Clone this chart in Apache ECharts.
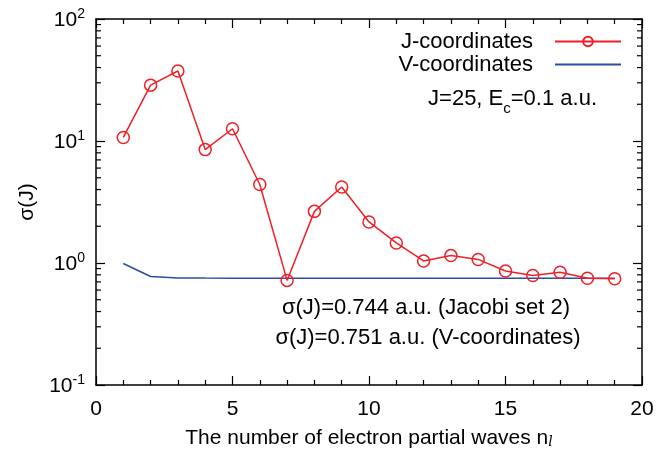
<!DOCTYPE html>
<html>
<head>
<meta charset="utf-8">
<script src="https://cdn.jsdelivr.net/npm/echarts@6/dist/echarts.min.js"></script>
<style>
  html, body { margin: 0; padding: 0; background: #fff; }
  #chart { width: 659px; height: 457px; }
</style>
</head>
<body>
<div id="chart"></div>
<script>
// 데이터
const nValues = [1, 2, 3, 4, 5, 6, 7, 8, 9, 10, 11, 12, 13, 14, 15, 16, 17, 18, 19];
const jCoordinates = [10.7, 28.7, 37.5, 8.5, 12.6, 4.4, 0.72, 2.65, 4.2, 2.17, 1.46, 1.04, 1.15, 1.07, 0.86, 0.79, 0.84, 0.75, 0.744];
const vCoordinates = [0.99, 0.775, 0.755, 0.752, 0.751, 0.751, 0.751, 0.751, 0.751, 0.751, 0.751, 0.751, 0.751, 0.751, 0.751, 0.751, 0.751, 0.751, 0.751];
const logMinorTicks = [0.2, 0.3, 0.4, 0.5, 0.6, 0.7, 0.8, 0.9, 2, 3, 4, 5, 6, 7, 8, 9, 20, 30, 40, 50, 60, 70, 80, 90];

const FONT = 'Liberation Sans';
const RED = '#ee2026';
const BLUE = '#2c4ca6';

const chart = echarts.init(document.getElementById('chart'));

const logLabel = v => {
  const p = Math.round(Math.log10(v));
  return '{b|10}{s|' + p + '}';
};

const xAxisBase = {
  type: 'value',
  min: 0,
  max: 20,
  interval: 5,
  axisLine: { show: true, onZero: false, lineStyle: { color: '#000', width: 1.5 } },
  axisTick: { show: true, inside: true, length: 9, lineStyle: { color: '#000', width: 1.2 } },
  minorTick: { show: true, splitNumber: 5, length: 5, lineStyle: { color: '#000', width: 1.2 } },
  splitLine: { show: false }
};

const yAxisBase = {
  type: 'log',
  logBase: 10,
  min: 0.1,
  max: 100,
  axisLine: { show: true, onZero: false, lineStyle: { color: '#000', width: 1.5 } },
  axisTick: { show: true, inside: true, length: 9, lineStyle: { color: '#000', width: 1.2 } },
  splitLine: { show: false }
};

chart.setOption({
  animation: false,
  textStyle: { fontFamily: FONT },
  grid: { left: 96, right: 17, top: 19, bottom: 72 },
  legend: {
    orient: 'vertical',
    align: 'right',
    right: 32,
    top: 25,
    itemWidth: 66,
    itemHeight: 12,
    itemGap: 0,
    data: [
      'J-coordinates',
      { name: 'V-coordinates', itemStyle: { opacity: 0 } }
    ],
    textStyle: { fontFamily: FONT, fontSize: 22, color: '#000', lineHeight: 23, padding: [0, 17, 0, 0] }
  },
  xAxis: [
    Object.assign({}, xAxisBase, {
      position: 'bottom',
      axisLabel: { show: true, fontSize: 21, color: '#000', margin: 14, fontFamily: FONT },
      name: '{t|The number of electron partial waves n}{l|l}',
      nameLocation: 'middle',
      nameGap: 42,
      nameTextStyle: {
        rich: {
          t: { fontSize: 21, fontFamily: FONT, color: '#000', lineHeight: 22 },
          l: { fontSize: 14, fontFamily: 'DejaVu Serif', fontStyle: 'italic', color: '#000', lineHeight: 12, verticalAlign: 'bottom' }
        }
      }
    }),
    Object.assign({}, xAxisBase, { position: 'top', axisLabel: { show: false } })
  ],
  yAxis: [
    Object.assign({}, yAxisBase, {
      position: 'left',
      axisLabel: {
        show: true,
        margin: 11,
        formatter: logLabel,
        rich: {
          b: { fontSize: 21, fontFamily: FONT, color: '#000', lineHeight: 24, verticalAlign: 'bottom' },
          s: { fontSize: 14, fontFamily: FONT, color: '#000', lineHeight: 14, verticalAlign: 'top' }
        }
      },
      name: 'σ(J)',
      nameLocation: 'middle',
      nameGap: 58,
      nameTextStyle: { fontSize: 21, fontFamily: FONT, color: '#000' }
    }),
    Object.assign({}, yAxisBase, { position: 'right', axisLabel: { show: false } })
  ],
  graphic: [
    {
      type: 'text',
      right: 62,
      top: 88,
      style: {
        text: '{t|J=25, E}{s|c}{t|=0.1 a.u.}',
        rich: {
          t: { fontSize: 22, fontFamily: FONT, fill: '#000', lineHeight: 24, verticalAlign: 'top' },
          s: { fontSize: 15, fontFamily: FONT, fill: '#000', lineHeight: 32, verticalAlign: 'top', padding: [13, 0, 0, 0] }
        }
      }
    },
    {
      type: 'text',
      x: 426,
      y: 308,
      style: {
        text: 'σ(J)=0.744 a.u. (Jacobi set 2)',
        fontSize: 22, fontFamily: FONT, fill: '#000',
        textAlign: 'center', textVerticalAlign: 'middle'
      }
    },
    {
      type: 'text',
      x: 428,
      y: 338,
      style: {
        text: 'σ(J)=0.751 a.u. (V-coordinates)',
        fontSize: 22, fontFamily: FONT, fill: '#000',
        textAlign: 'center', textVerticalAlign: 'middle'
      }
    }
  ],
  series: [
    {
      name: 'V-coordinates',
      type: 'line',
      data: nValues.map((n, i) => [n, vCoordinates[i]]),
      showSymbol: false,
      symbol: 'none',
      lineStyle: { color: BLUE, width: 1.5 },
      itemStyle: { color: BLUE },
      z: 2
    },
    {
      name: 'J-coordinates',
      type: 'line',
      data: nValues.map((n, i) => [n, jCoordinates[i]]),
      symbol: 'circle',
      symbolSize: 12,
      lineStyle: { color: RED, width: 1.5 },
      itemStyle: { color: 'rgba(0,0,0,0)', borderColor: RED, borderWidth: 1.5 },
      z: 3
    },
    {
      // 로그축 보조 눈금 (좌/우)
      type: 'custom',
      silent: true,
      data: logMinorTicks.map(v => [0, v]),
      renderItem: (params, api) => {
        const cs = params.coordSys;
        const y = api.coord([0, api.value(1)])[1];
        const st = { stroke: '#000', lineWidth: 1.2 };
        return {
          type: 'group',
          children: [
            { type: 'line', shape: { x1: cs.x, y1: y, x2: cs.x + 5, y2: y }, style: st },
            { type: 'line', shape: { x1: cs.x + cs.width, y1: y, x2: cs.x + cs.width - 5, y2: y }, style: st }
          ]
        };
      },
      z: 5
    }
  ]
});
</script>
</body>
</html>
